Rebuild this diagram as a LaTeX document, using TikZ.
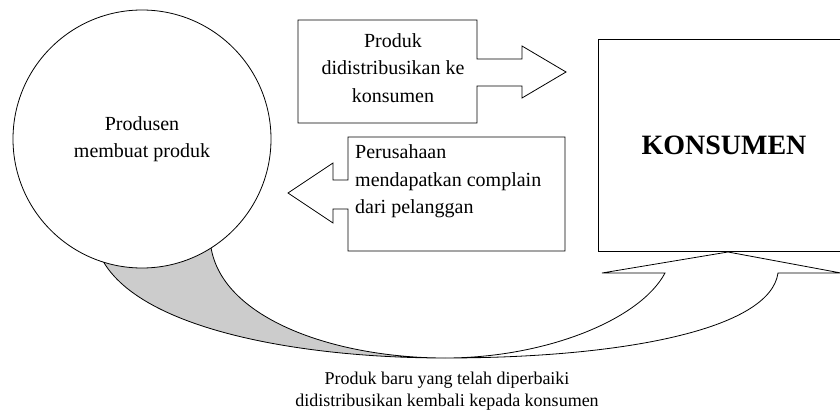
\documentclass[tikz,border=0pt]{standalone}
\usepackage{fontspec}
\setmainfont{LiberationSerif}[Extension=.ttf,UprightFont=*-Regular,BoldFont=*-Bold,ItalicFont=*-Italic,BoldItalicFont=*-BoldItalic]
\definecolor{bandgray}{RGB}{204,204,204}
\begin{document}
\begin{tikzpicture}[x=1pt,y=-1pt,
  outline/.style={draw=black,line width=0.8pt,line join=miter},
  bodytext/.style={font=\fontsize{20}{27.5}\selectfont,inner sep=0pt},
  notetext/.style={font=\fontsize{18}{21.5}\selectfont,inner sep=0pt,align=center}]
\useasboundingbox (0,0) rectangle (840,417);
\clip (0,0) rectangle (840,417);

% key points of the curved return arrow
\coordinate (tailout) at (95,240);
\coordinate (tailin)  at (210,235);
\coordinate (low)     at (445,358);
\coordinate (shl)     at (665,273);
\coordinate (barbl)   at (602,273);
\coordinate (apex)    at (728,252);
\coordinate (barbr)   at (841,273);
\coordinate (shr)     at (778,273);

% back (shaded) part of the curved arrow
\path[outline,fill=bandgray] (tailout) .. controls (112,325) and (290,358) .. (low)
  .. controls (330,358) and (210,315) .. (tailin) -- cycle;

% front part of the curved arrow with its head
\path[outline,fill=white] (low) .. controls (545,358) and (640,320) .. (shl)
  -- (barbl) -- (apex) -- (barbr) -- (shr)
  .. controls (770,330) and (620,358) .. (low) -- cycle;

% producer
\node[outline,circle,fill=white,minimum size=258pt,inner sep=0pt,
      bodytext,align=center] (prod) at (142,139) {Produsen\\membuat produk};

% consumer
\node[outline,rectangle,fill=white,minimum width=252pt,minimum height=212pt,
      inner sep=0pt,font=\fontsize{28}{30}\selectfont\bfseries] (kons) at (724,145) {KONSUMEN};

% callout: product distributed to consumers
\path[outline,fill=white] (298,20) -- (477,20) -- (477,59) -- (522,59) -- (522,46)
  -- (566,72) -- (522,98) -- (522,86) -- (477,86) -- (477,123) -- (298,123) -- cycle;
\node[bodytext,align=center] (dist) at (393,67.7) {Produk\\didistribusikan ke\\konsumen};

% callout: complaints from customers
\path[outline,fill=white] (565,137) -- (348,137) -- (348,180) -- (333,180) -- (333,163)
  -- (288,193) -- (333,223) -- (333,209) -- (348,209) -- (348,251) -- (565,251) -- cycle;
\node[bodytext,align=left,anchor=west] (compl) at (355,181.3)
  {Perusahaan\\mendapatkan complain\\dari pelanggan};

% caption of the return arrow
\node[notetext] (again) at (447,391.3)
  {Produk baru yang telah diperbaiki\\didistribusikan kembali kepada konsumen};
\end{tikzpicture}
\end{document}
